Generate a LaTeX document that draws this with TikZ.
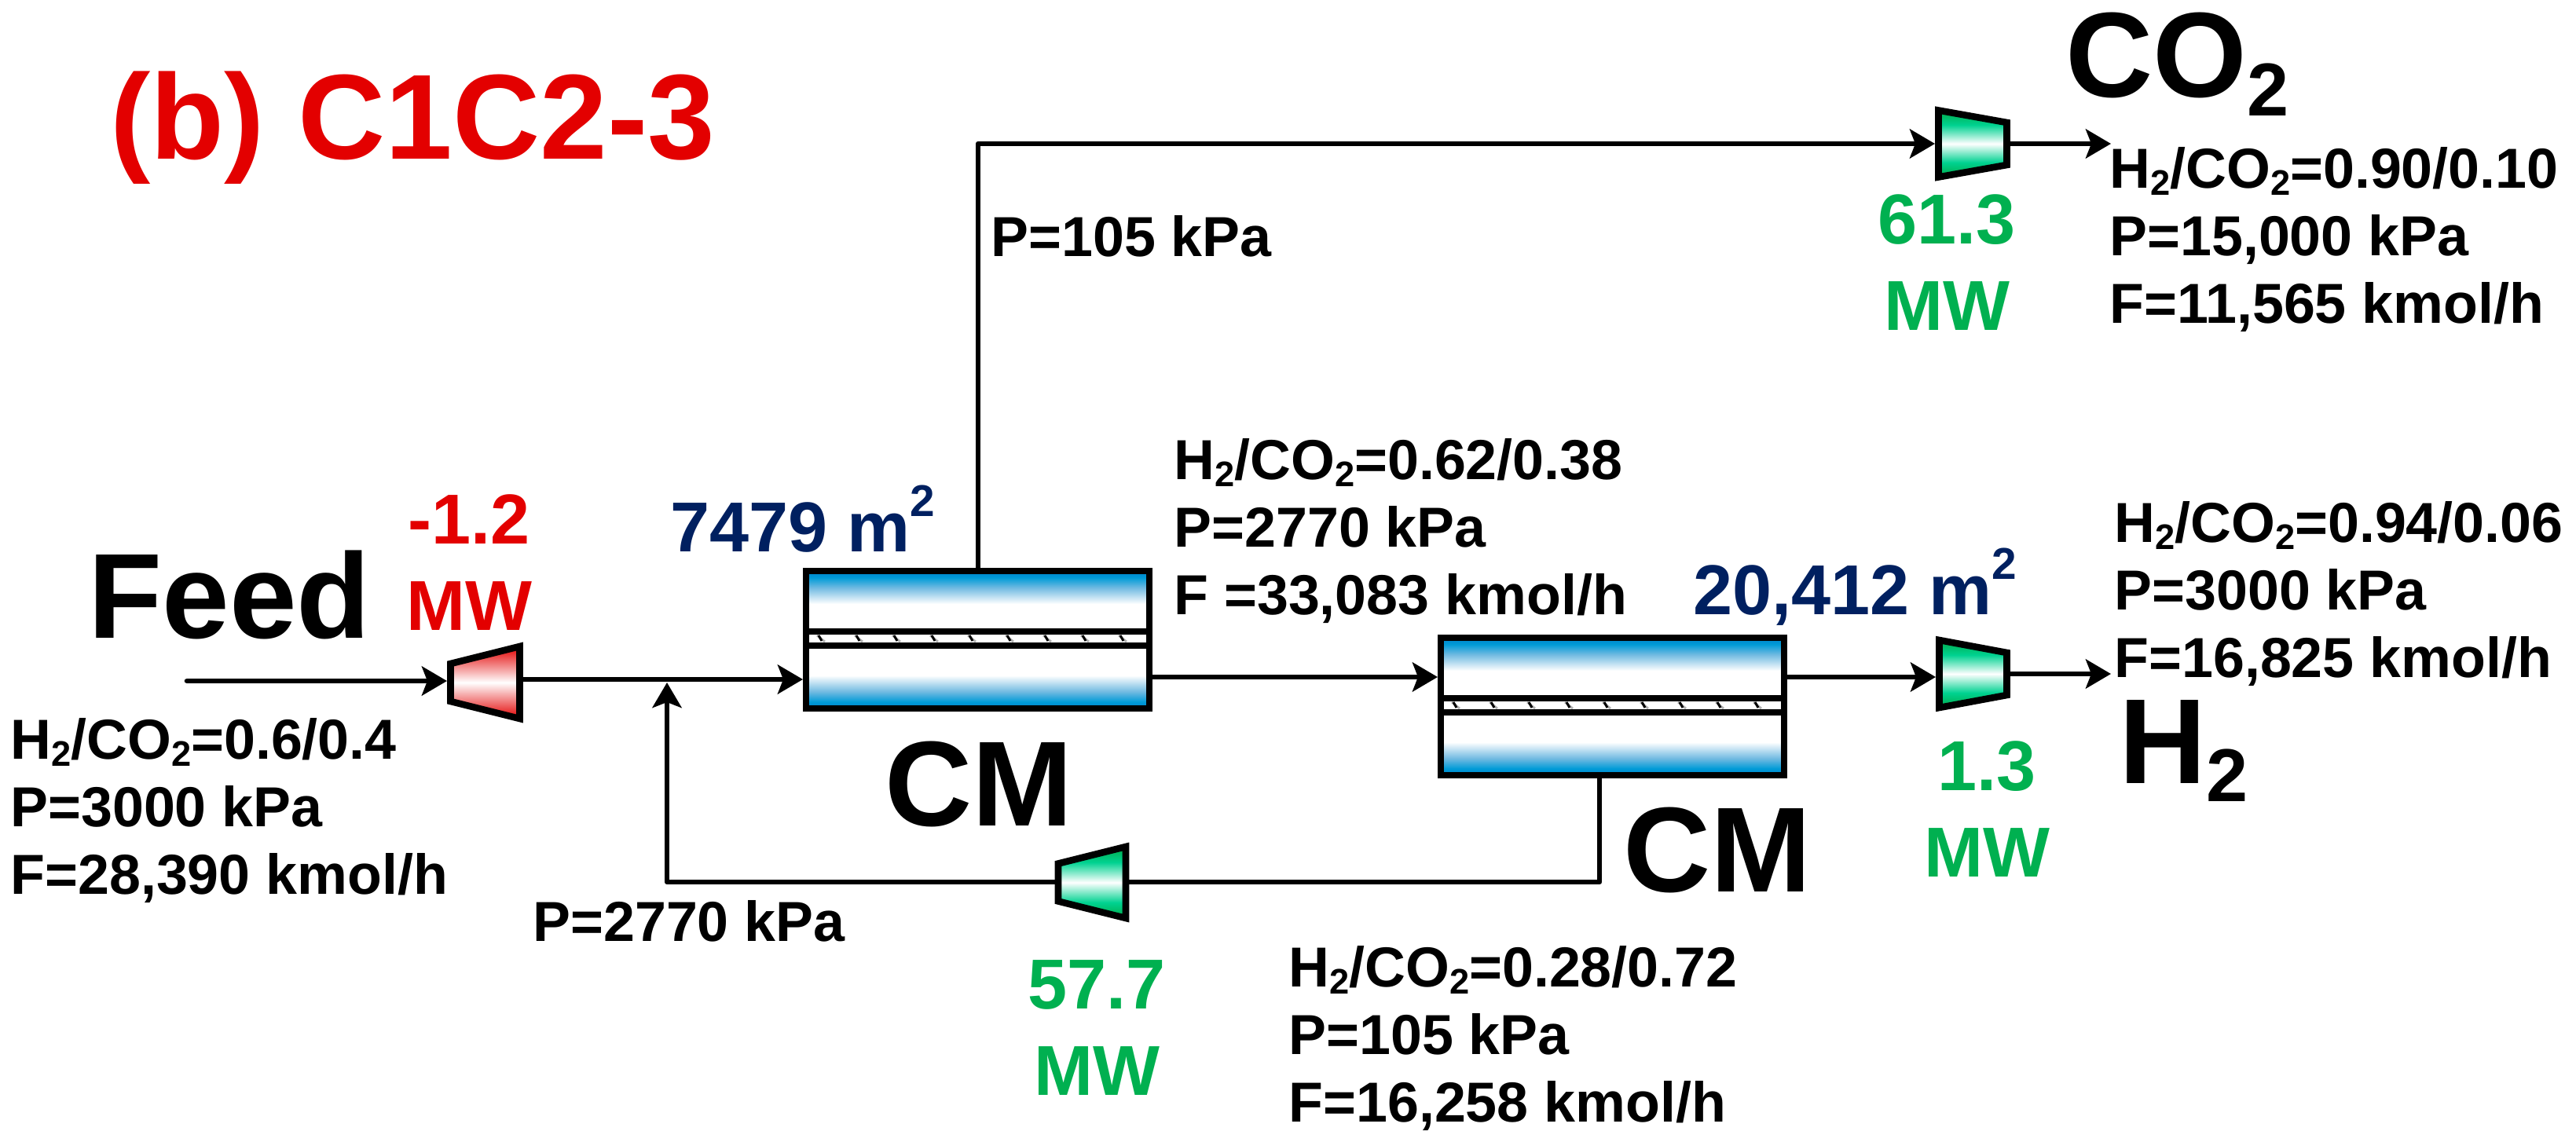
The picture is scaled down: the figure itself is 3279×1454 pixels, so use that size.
\documentclass[tikz,border=0pt]{standalone}
\usepackage{fontspec}
\setmainfont{Liberation Sans}
\usetikzlibrary{arrows.meta}
\definecolor{redT}{RGB}{227,0,0}
\definecolor{greenT}{RGB}{0,176,80}
\definecolor{navyT}{RGB}{0,32,96}
\definecolor{gDark}{RGB}{0,170,70}
\definecolor{gMid}{RGB}{0,210,145}
\definecolor{bDark}{RGB}{0,128,200}
\definecolor{bMid}{RGB}{0,155,215}
\definecolor{bLight}{RGB}{110,185,225}
\pgfdeclareverticalshading{compgreen}{100bp}{
  color(0bp)=(gDark);
  color(25bp)=(gDark);
  color(36bp)=(gMid);
  color(50bp)=(white);
  color(64bp)=(gMid);
  color(75bp)=(gDark);
  color(100bp)=(gDark)}
\pgfdeclareverticalshading{compred}{100bp}{
  color(0bp)=(redT);
  color(25bp)=(redT);
  color(50bp)=(white);
  color(75bp)=(redT);
  color(100bp)=(redT)}
\pgfdeclareverticalshading{memtop}{100bp}{
  color(0bp)=(white);
  color(25bp)=(white);
  color(50bp)=(bLight);
  color(65bp)=(bMid);
  color(75bp)=(bDark);
  color(100bp)=(bDark)}
\pgfdeclareverticalshading{membot}{100bp}{
  color(0bp)=(bDark);
  color(25bp)=(bDark);
  color(35bp)=(bMid);
  color(50bp)=(bLight);
  color(75bp)=(white);
  color(100bp)=(white)}
\tikzset{
  x=0.5pt,y=-0.5pt,
  flow/.style={line width=3.3pt,-{Stealth[length=16pt,width=18.5pt,inset=3.5pt]}},
  pipe/.style={line width=3.3pt},
  lab/.style={font=\bfseries\fontsize{35.9}{43}\selectfont,align=left,anchor=north west,inner sep=0pt,text=black},
  big/.style={font=\bfseries\fontsize{77}{80}\selectfont,inner sep=0pt,text=black,anchor=base west},
  mw/.style={font=\bfseries\fontsize{45}{55}\selectfont,align=center,inner sep=0pt},
  area/.style={font=\bfseries\fontsize{45}{50}\selectfont,inner sep=0pt,text=navyT,anchor=base west},
}
\newcommand{\sbs}[1]{\raisebox{-0.13em}{\scalebox{0.63}{#1}}}
\newcommand{\sps}[1]{\raisebox{0.49em}{\scalebox{0.63}{#1}}}
\newcommand{\bigsub}[1]{\raisebox{-0.15em}{\scalebox{0.62}{#1}}}
\newcommand{\hco}[1]{H\sbs{2}/CO\sbs{2}=#1}
% name, outer xL, outer xR, yc, outer halfL, outer halfR, shading
\newcommand{\comp}[7]{%
  \path[shading=#7] (#2+4.5,#4-#5+6) -- (#3-4.5,#4-#6+3) -- (#3-4.5,#4+#6-3) -- (#2+4.5,#4+#5-6) -- cycle;
  \node[inner sep=0pt] (#1) at ({(#2+#3)/2},#4) {};
  \draw[line width=4.3pt,line join=miter] (#2+4.5,#4-#5+6) -- (#3-4.5,#4-#6+3) -- (#3-4.5,#4+#6-3) -- (#2+4.5,#4+#5-6) -- cycle;
}
% name, outer x1, x2, y1, y2
\newcommand{\memb}[5]{%
  \path[shading=memtop] (#2+4,#4+4) rectangle (#3-4,#4+46);
  \path[shading=membot] (#2+4,#5-46) rectangle (#3-4,#5-4);
  \draw[line width=4.2pt] (#2+4,#4+4) rectangle (#3-4,#5-4);
  \draw[line width=4.2pt] (#2+4,#4+81) -- (#3-4,#4+81);
  \draw[line width=4.2pt] (#2+4,#4+99) -- (#3-4,#4+99);
  \foreach \k in {0,...,8}{
    \draw[line width=1.4pt,black!30] (#2+18+48*\k,#4+86) -- (#2+28+48*\k,#4+94);
    \draw[line width=1.5pt] (#2+20+48*\k,#4+86) -- (#2+24+48*\k,#4+93);
  }
  \node[inner sep=0pt] (#1) at ({(#2+#3)/2},{(#4+#5)/2}) {};
}
\begin{document}
\begin{tikzpicture}
\useasboundingbox (0,0) rectangle (3279,1454);
\comp{c1}{569}{666}{869}{30}{49}{compred}
\comp{c2}{2463}{2559}{183}{48.5}{30}{compgreen}
\comp{c3}{2464}{2559}{858}{49}{30}{compgreen}
\comp{c4}{1342.5}{1437.5}{1123.5}{30}{48.5}{compgreen}
\memb{m1}{1022}{1467}{723}{906}
\memb{m2}{1830}{2275}{808}{991}
\coordinate (feedin) at (238,867);
\coordinate (mix) at (849,869);
\coordinate (topc) at (1245,183);
\coordinate (ends) at (2687,183);
\coordinate (endh) at (2687,858);
\coordinate (recr) at (2036,1123);
\coordinate (recl) at (849,1123);
\draw[flow,line cap=round] (feedin) -- (569,867);
\draw[flow] (666,865) -- (1022,865);
\draw[flow,line join=round] (1245,723) -- (topc) -- (2463,183);
\draw[flow] (2559,183) -- (ends);
\draw[flow] (1467,862) -- (1830,862);
\draw[flow] (2275,862) -- (2464,862);
\draw[flow] (2559,858) -- (endh);
\draw[pipe,line join=round] (2036,991) -- (recr) -- (1437,1123);
\draw[flow,line join=round] (1343,1123) -- (recl) -- (mix);
\node[font=\bfseries\fontsize{77}{80}\selectfont,text=redT,anchor=base west,inner sep=0pt] (title) at (140,203) {(b) C1C2-3};
\node[big] (co2) at (2629,124) {CO\bigsub{2}};
\node[big] (feed) at (112,812) {Feed};
\node[big] (cm1) at (1126,1051) {CM};
\node[big] (cm2) at (2066,1135) {CM};
\node[big] (h2) at (2697,997) {H\bigsub{2}};
\node[mw,text=redT] (w1) at (597,716.5) {-1.2\\MW};
\node[mw,text=greenT] (w2) at (2478,334.5) {61.3\\MW};
\node[mw,text=greenT] (w3) at (2529,1030) {1.3\\MW};
\node[mw,text=greenT] (w4) at (1396,1309) {57.7\\MW};
\node[area] (a1) at (853,702) {7479 m\sps{2}};
\node[area] (a2) at (2155,782) {20,412 m\sps{2}};
\node[lab] (t1) at (13,914) {\hco{0.6/0.4}\\P=3000 kPa\\F=28,390 kmol/h};
\node[lab] (t2) at (1261,274) {P=105 kPa};
\node[lab] (t3) at (2685,187) {\hco{0.90/0.10}\\P=15,000 kPa\\F=11,565 kmol/h};
\node[lab] (t4) at (1494,558) {\hco{0.62/0.38}\\P=2770 kPa\\F =33,083 kmol/h};
\node[lab] (t5) at (2691,638) {\hco{0.94/0.06}\\P=3000 kPa\\F=16,825 kmol/h};
\node[lab] (t6) at (678,1146) {P=2770 kPa};
\node[lab] (t7) at (1640,1204) {\hco{0.28/0.72}\\P=105 kPa\\F=16,258 kmol/h};
\end{tikzpicture}
\end{document}
